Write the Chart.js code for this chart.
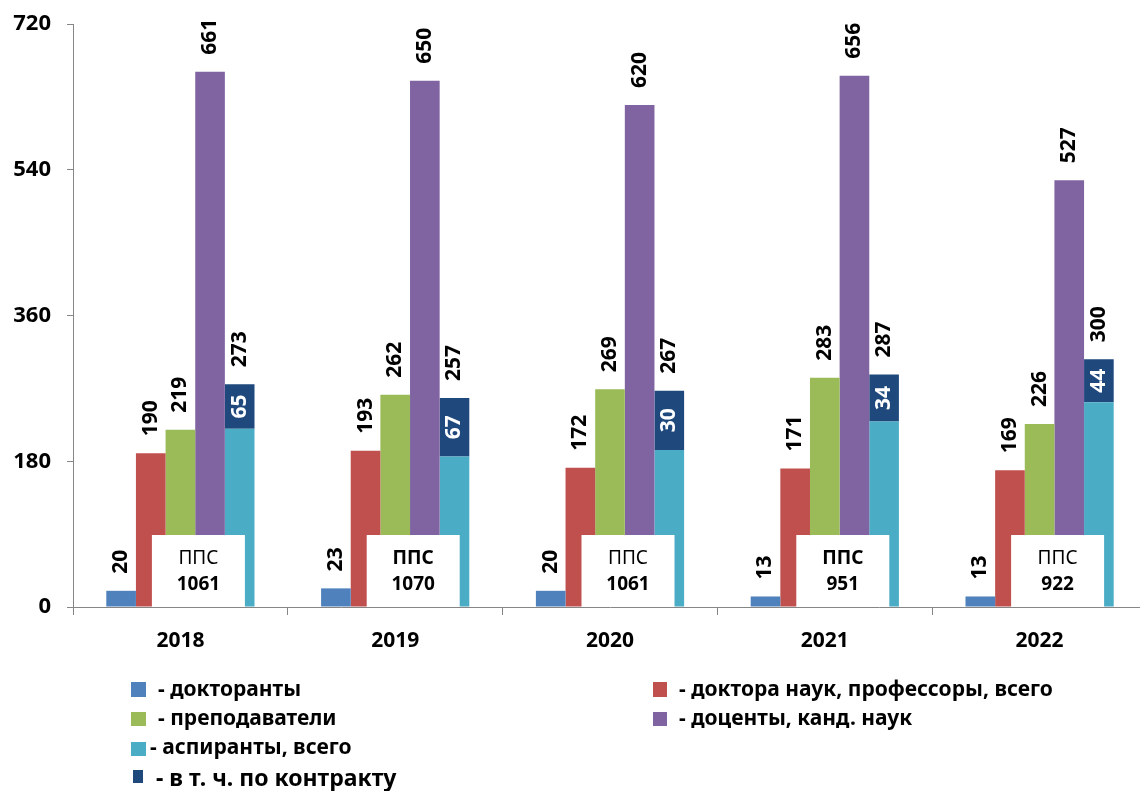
<!DOCTYPE html>
<html lang="ru">
<head>
<meta charset="utf-8">
<title>ППС и аспиранты 2018–2022</title>
<script src="https://cdn.jsdelivr.net/npm/chart.js@4/dist/chart.umd.min.js"></script>
<style>
  html, body { margin: 0; padding: 0; background: #fff; overflow: hidden; }
  #wrap { width: 1150px; height: 791px; }
</style>
</head>
<body>
<div id="wrap"><canvas id="staffChart" width="1150" height="791"></canvas></div>
<script>
// Data
const years = ['2018', '2019', '2020', '2021', '2022'];
const doktoranty = [20, 23, 20, 13, 13];
const doktoraNauk = [190, 193, 172, 171, 169];
const prepodavateli = [219, 262, 269, 283, 226];
const docenty = [661, 650, 620, 656, 527];
// aspirants: bar heights as drawn, and the printed labels
const aspirantyBars = [220, 186, 194, 229, 253];
const contractBars = [55, 72, 73, 58, 53];
const aspirantyLabels = [273, 257, 267, 287, 300];
const contractLabels = [65, 67, 30, 34, 44];
const ppsTotals = [1061, 1070, 1061, 951, 922];
const yTicks = [0, 180, 360, 540, 720];

// Colors
const BLUE = '#4F81BD';
const RED = '#C0504D';
const GREEN = '#9BBB59';
const PURPLE = '#8064A2';
const TEAL = '#4BACC6';
const NAVY = '#1F497D';
const AXIS_GRAY = '#868686';
const FONT = '"Noto Sans", "Open Sans", sans-serif';

const boldPpsYears = ['2019', '2021'];

// Rotated label helper
function drawVertical(ctx, text, x, y, align) {
    ctx.save();
    ctx.translate(x, y);
    ctx.rotate(-Math.PI / 2);
    ctx.textAlign = align;
    ctx.textBaseline = 'middle';
    ctx.fillText(text, 0, 0);
    ctx.restore();
}

// Value labels above bars and inside the contract segment
const valueLabels = {
    id: 'valueLabels',
    afterDatasetsDraw(chart) {
        const ctx = chart.ctx;
        ctx.save();
        ctx.font = 'bold 21px ' + FONT;
        chart.data.datasets.forEach((ds, i) => {
            const meta = chart.getDatasetMeta(i);
            meta.data.forEach((bar, j) => {
                if (ds.topLabels) {
                    ctx.fillStyle = '#000';
                    drawVertical(ctx, String(ds.topLabels[j]), bar.x, bar.y - 17, 'left');
                }
                if (ds.innerLabels) {
                    ctx.fillStyle = '#fff';
                    drawVertical(ctx, String(ds.innerLabels[j]), bar.x, (bar.y + bar.base) / 2, 'center');
                }
            });
        });
        ctx.restore();
    }
};

// White "ППС" boxes over the bottom of each group
const ppsBoxes = {
    id: 'ppsBoxes',
    afterDatasetsDraw(chart) {
        const ctx = chart.ctx;
        const xs = chart.scales.x;
        const ys = chart.scales.y;
        const zero = ys.getPixelForValue(0);
        ctx.save();
        years.forEach((year, j) => {
            const cx = xs.getPixelForValue(j) + 18;
            const w = 93, h = 72;
            ctx.fillStyle = '#fff';
            ctx.fillRect(cx - w / 2, zero - h, w, h);
            ctx.fillStyle = '#000';
            ctx.textAlign = 'center';
            ctx.textBaseline = 'middle';
            ctx.font = (boldPpsYears.includes(year) ? 'bold ' : '') + '19px ' + FONT;
            ctx.fillText('ППС', cx, zero - 48);
            ctx.font = 'bold 19px ' + FONT;
            ctx.fillText(String(ppsTotals[j]), cx, zero - 22);
        });
        ctx.restore();
    }
};

// Two-column legend under the chart
const bottomLegend = {
    id: 'bottomLegend',
    afterDraw(chart) {
        const ctx = chart.ctx;
        const items = [
            { text: '- докторанты', color: BLUE, box: [131, 682, 15, 15], tx: 158, ty: 690, size: 21 },
            { text: '- преподаватели', color: GREEN, box: [131, 712, 15, 14], tx: 158, ty: 719, size: 21 },
            { text: '- аспиранты, всего', color: TEAL, box: [131, 742, 15, 14], tx: 150, ty: 748, size: 21 },
            { text: '- в т. ч. по контракту', color: NAVY, box: [133, 770, 10, 13], tx: 156, ty: 779, size: 23 },
            { text: '- доктора наук, профессоры, всего', color: RED, box: [653, 682, 14, 15], tx: 679, ty: 690, size: 21 },
            { text: '- доценты, канд. наук', color: PURPLE, box: [653, 712, 14, 14], tx: 679, ty: 719, size: 21 }
        ];
        ctx.save();
        ctx.textAlign = 'left';
        ctx.textBaseline = 'middle';
        items.forEach(it => {
            ctx.fillStyle = it.color;
            ctx.fillRect(it.box[0], it.box[1], it.box[2], it.box[3]);
            ctx.fillStyle = '#000';
            ctx.font = 'bold ' + it.size + 'px ' + FONT;
            ctx.fillText(it.text, it.tx, it.ty);
        });
        ctx.restore();
    }
};

function createStaffChart() {
    const ctx = document.getElementById('staffChart').getContext('2d');
    const barStyle = {
        borderWidth: 0,
        categoryPercentage: 0.69,
        barPercentage: 1.0
    };
    return new Chart(ctx, {
        type: 'bar',
        data: {
            labels: years,
            datasets: [
                { label: '- докторанты', data: doktoranty, backgroundColor: BLUE, stack: 's1', topLabels: doktoranty, ...barStyle },
                { label: '- доктора наук, профессоры, всего', data: doktoraNauk, backgroundColor: RED, stack: 's2', topLabels: doktoraNauk, ...barStyle },
                { label: '- преподаватели', data: prepodavateli, backgroundColor: GREEN, stack: 's3', topLabels: prepodavateli, ...barStyle },
                { label: '- доценты, канд. наук', data: docenty, backgroundColor: PURPLE, stack: 's4', topLabels: docenty, ...barStyle },
                { label: '- аспиранты, всего', data: aspirantyBars, backgroundColor: TEAL, stack: 's5', ...barStyle },
                { label: '- в т. ч. по контракту', data: contractBars, backgroundColor: NAVY, stack: 's5', topLabels: aspirantyLabels, innerLabels: contractLabels, ...barStyle }
            ]
        },
        options: {
            responsive: false,
            animation: false,
            layout: { padding: { left: 12, right: 3, top: 24, bottom: 136 } },
            plugins: {
                legend: { display: false },
                tooltip: { enabled: false }
            },
            scales: {
                x: {
                    stacked: true,
                    offset: true,
                    border: { display: true, color: AXIS_GRAY, width: 1 },
                    grid: { offset: true, drawOnChartArea: false, drawTicks: true, tickLength: 8, color: AXIS_GRAY },
                    ticks: { color: '#000', font: { family: FONT, size: 21, weight: 'bold' }, padding: 13 },
                    afterFit(scale) {
                        scale.height = 48;
                        scale.paddingLeft = 0;
                        scale.paddingRight = 0;
                    }
                },
                y: {
                    stacked: true,
                    min: yTicks[0],
                    max: yTicks[yTicks.length - 1],
                    border: { display: true, color: AXIS_GRAY, width: 1 },
                    grid: { drawOnChartArea: false, drawTicks: true, tickLength: 6, color: AXIS_GRAY },
                    afterBuildTicks(scale) { scale.ticks = yTicks.map(v => ({ value: v })); },
                    ticks: { color: '#000', font: { family: FONT, size: 22, weight: 'bold' }, padding: 16 },
                    afterFit(scale) {
                        scale.width = 61;
                        scale.paddingTop = 0;
                        scale.paddingBottom = 0;
                    }
                }
            }
        },
        plugins: [valueLabels, ppsBoxes, bottomLegend]
    });
}

document.addEventListener('DOMContentLoaded', createStaffChart);
</script>
</body>
</html>
